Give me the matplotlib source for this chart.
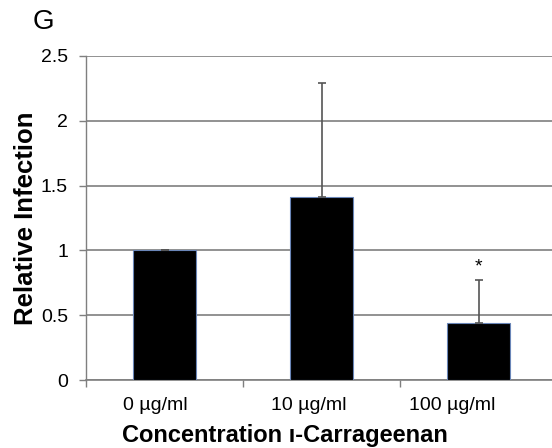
import matplotlib.pyplot as plt
import matplotlib.transforms as mtransforms
import numpy as np

plt.rcParams['font.family'] = ['Liberation Sans', 'DejaVu Sans']

categories = ['0 µg/ml', '10 µg/ml', '100 µg/ml']
infection = [1.0, 1.41, 0.44]
err_upper = [0.0, 0.88, 0.33]
significant = [False, False, True]

fig = plt.figure(figsize=(5.52, 4.48), dpi=100)
ax = fig.add_axes([86 / 552, 68 / 448, 471 / 552, 324 / 448])

x = np.arange(len(categories))
ax.bar(x, infection, width=0.4, color='black', edgecolor='#6a86b8', linewidth=0.8, zorder=3)

# one-sided (upper) error bars
ax.errorbar(x, infection, yerr=[np.zeros(len(x)), err_upper], fmt='none',
            ecolor='#555555', elinewidth=1.2, capsize=3, capthick=1.2, zorder=4)

for xi, yi, e, s in zip(x, infection, err_upper, significant):
    if s:
        ax.text(xi, yi + e + 0.04, '*', ha='center', va='bottom', fontsize=14)

ax.set_xlim(-0.5, 2.5)
ax.set_ylim(0, 2.5)
ax.set_yticks([0, 0.5, 1, 1.5, 2, 2.5])
ax.set_yticklabels(['0', '0.5', '1', '1.5', '2', '2.5'])
ax.yaxis.grid(True, color='#7f7f7f', linewidth=1.2, zorder=0)
ax.set_axisbelow(True)

ax.set_xticks(x)
ax.set_xticklabels(categories, fontsize=14)
ax.tick_params(axis='x', length=0, pad=12)
ax.set_xticks([-0.5, 0.5, 1.5], minor=True)
ax.tick_params(axis='x', which='minor', length=5, color='#7f7f7f', width=1)
ax.tick_params(axis='y', labelsize=14, length=5, color='#7f7f7f', width=1, pad=8)

# nudge category labels a little to the left
for lbl, dx in zip(ax.get_xticklabels(), [-9, -13, -26]):
    lbl.set_transform(lbl.get_transform() +
                      mtransforms.ScaledTranslation(dx / 100, 0, fig.dpi_scale_trans))

for side in ['top', 'right']:
    ax.spines[side].set_visible(False)
ax.spines['left'].set_color('#7f7f7f')
ax.spines['bottom'].set_color('#7f7f7f')
ax.spines['left'].set_linewidth(1)
ax.spines['bottom'].set_linewidth(1.2)

ax.set_ylabel('Relative Infection', fontsize=18.5, fontweight='bold', labelpad=2)
fig.text(285 / 552, 1 - 435 / 448, 'Concentration ı-Carrageenan',
         fontsize=17, fontweight='bold', ha='center', va='center')

fig.text(33 / 552, 1 - 22 / 448, 'G', fontsize=20, va='center', ha='left')

fig.savefig('out.png', dpi=100)
